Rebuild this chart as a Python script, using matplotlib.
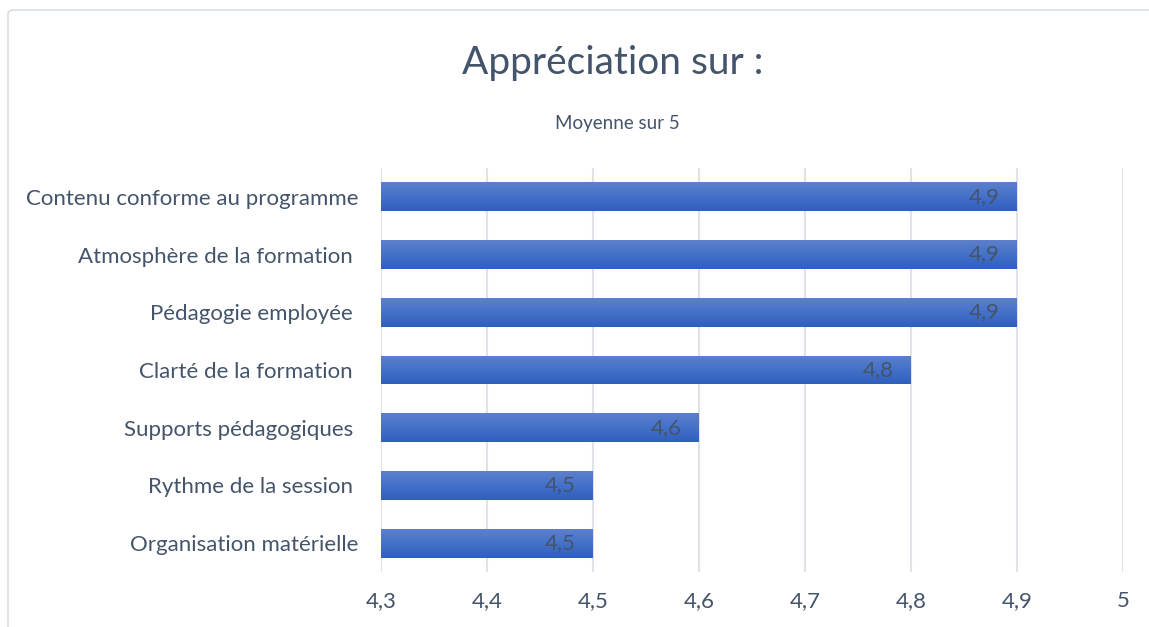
import numpy as np
import matplotlib.pyplot as plt
from matplotlib.patches import FancyBboxPatch
from matplotlib.colors import LinearSegmentedColormap

categories = ["Organisation matérielle", "Rythme de la session ", "Supports pédagogiques ",
              "Clarté de la formation ", "Pédagogie employée ", "Atmosphère de la formation ",
              "Contenu conforme au programme"]
values = [4.5, 4.5, 4.6, 4.8, 4.9, 4.9, 4.9]
xticks = [4.3, 4.4, 4.5, 4.6, 4.7, 4.8, 4.9, 5.0]
xlabels = ["4,3", "4,4", "4,5", "4,6", "4,7", "4,8", "4,9", "5"]

txt = "#44546a"
grid = "#dfe3e8"
plt.rcParams['font.family'] = ['Lato', 'DejaVu Sans']

fig = plt.figure(figsize=(11.49, 6.27), dpi=100)
ax = fig.add_axes([381/1149, 1 - 572/627, 742/1149, 404/627])

y = np.arange(len(categories))
bars = ax.barh(y, [v - 4.3 for v in values], left=4.3, height=0.5, color="#4472c4", zorder=2)

# vertical gradient on each bar
grad = np.linspace(0, 1, 64).reshape(-1, 1)
cmap = LinearSegmentedColormap.from_list("g", ["#2f5fbd", "#4471c9", "#5d80cc"])
for b in bars:
    x0, y0, w, h = b.get_x(), b.get_y(), b.get_width(), b.get_height()
    im = ax.imshow(grad, cmap=cmap, aspect="auto", extent=[x0, x0 + w, y0, y0 + h],
                   origin="lower", zorder=3)
    im.set_clip_path(b)

for yi, v in zip(y, values):
    ax.annotate(f"{v:.1f}".replace(".", ","), xy=(v, yi), xytext=(-17, 0),
                textcoords="offset pixels", ha="right", va="center",
                fontsize=16, color=txt, zorder=4)

ax.set_xlim(4.3, 5.0)
ax.set_ylim(-0.5, len(categories) - 0.5)
ax.set_xticks(xticks)
ax.set_xticklabels(xlabels, fontsize=16, color=txt)
ax.set_yticks(y)
ax.set_yticklabels(categories, fontsize=16, color=txt)
ax.tick_params(axis="both", length=0)
ax.tick_params(axis="x", pad=14)
ax.tick_params(axis="y", pad=16)
for s in ax.spines.values():
    s.set_visible(False)
ax.xaxis.grid(True, color=grid, linewidth=1.5, zorder=0)
ax.set_axisbelow(True)
ax.set_xlim(4.3, 5.0)

fig.text(613/1149, 1 - 63/627, "Appréciation sur :", ha="center", va="center",
         fontsize=28, color=txt)
fig.text(617/1149, 1 - 124/627, "Moyenne sur 5", ha="center", va="center",
         fontsize=13.5, color=txt)

frame = FancyBboxPatch((8/1149, -0.05), 1.05, 0.05 + 1 - 10/627, boxstyle="round,pad=0,rounding_size=0.006",
                       transform=fig.transFigure, facecolor="none", edgecolor="#d9dee6",
                       linewidth=1.2)
fig.patches.append(frame)

fig.savefig("out.png", dpi=100)
